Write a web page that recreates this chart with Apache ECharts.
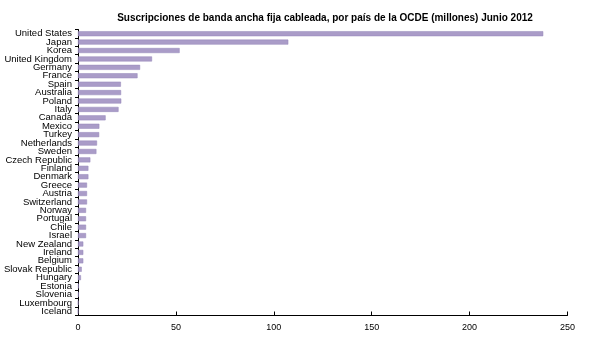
<!DOCTYPE html>
<html><head><meta charset="utf-8">
<script src="https://cdn.jsdelivr.net/npm/echarts@6/dist/echarts.min.js"></script>
<style>html,body{margin:0;padding:0;background:#fff}#c{width:600px;height:340px}</style>
</head><body><div id="c"></div>
<script>
const countries = ["United States","Japan","Korea","United Kingdom","Germany","France","Spain","Australia","Poland","Italy","Canada","Mexico","Turkey","Netherlands","Sweden","Czech Republic","Finland","Denmark","Greece","Austria","Switzerland","Norway","Portugal","Chile","Israel","New Zealand","Ireland","Belgium","Slovak Republic","Hungary","Estonia","Slovenia","Luxembourg","Iceland"];
const values = [237.6,107.4,51.9,37.8,31.7,30.4,21.9,22.0,22.1,20.7,14.1,10.9,10.8,9.7,9.4,6.3,5.3,5.3,4.6,4.6,4.6,4.1,4.1,4.1,4.1,2.7,2.7,2.7,1.9,1.5,0.4,0.4,0.2,0.1];
const xTicks = [0,50,100,150,200,250];
const title = "Suscripciones de banda ancha fija cableada, por país de la OCDE (millones) Junio 2012";

const chart = echarts.init(document.getElementById('c'), null, {renderer:'canvas'});
chart.setOption({
  animation:false,
  title:{text:title,left:320,top:8,textAlign:'center',
    textStyle:{fontFamily:'Liberation Sans, Arial',fontSize:10,fontWeight:'bold',color:'#000'}},
  grid:{left:78,right:32.5,top:29.5,bottom:24.5,outerBoundsMode:'none',containLabel:false},
  xAxis:{type:'value',min:xTicks[0],max:xTicks[xTicks.length-1],interval:50,
    axisLine:{show:true,lineStyle:{color:'#000',width:1}},
    axisTick:{show:true,inside:true,length:4,lineStyle:{color:'#000'}},
    splitLine:{show:false},
    axisLabel:{color:'#000',fontFamily:'Liberation Sans, Arial',fontSize:9,margin:8}},
  yAxis:{type:'category',data:countries,inverse:true,
    axisLine:{show:true,lineStyle:{color:'#000',width:1}},
    axisTick:{show:true,length:3,lineStyle:{color:'#000'}},
    axisLabel:{interval:0,color:'#000',fontFamily:'Liberation Sans, Arial',fontSize:9.5,margin:6,lineHeight:9}},
  series:[{type:'bar',data:values,barWidth:5,
    itemStyle:{color:'#aa9cc8',borderColor:'#9486b8',borderWidth:0.5}}]
});
</script></body></html>
